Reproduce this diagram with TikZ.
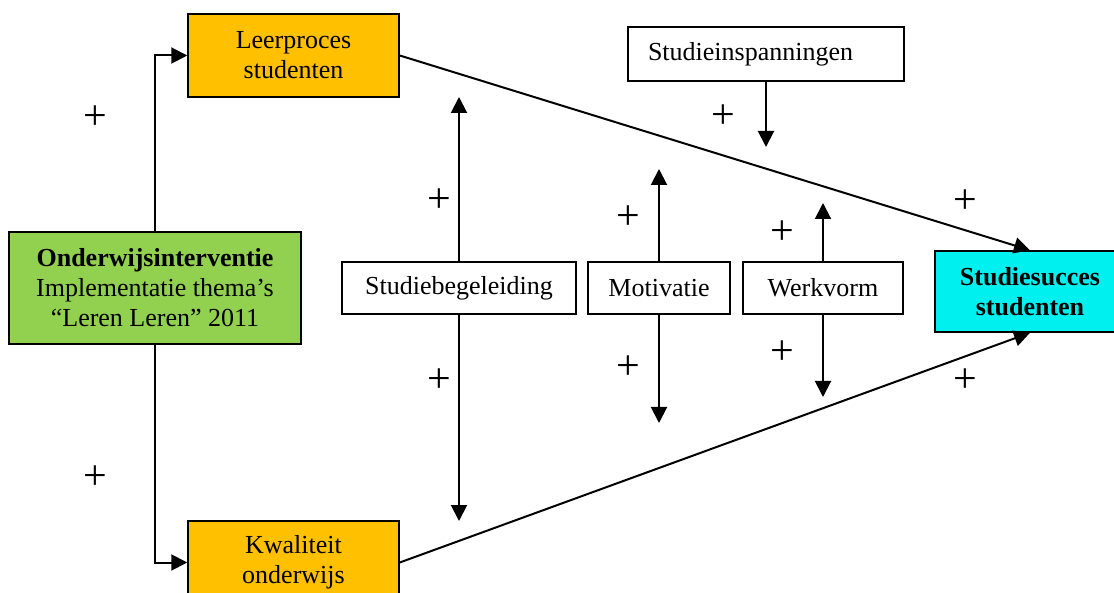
\documentclass[tikz,border=0pt]{standalone}
\usepackage{fontspec}
\setmainfont{Liberation Serif}
\usetikzlibrary{arrows.meta}
\definecolor{orangebox}{RGB}{255,192,0}
\definecolor{greenbox}{RGB}{146,208,80}
\definecolor{cyanbox}{RGB}{0,240,240}
\begin{document}
\begin{tikzpicture}[x=1pt,y=-1pt,
  box/.style={draw, line width=1.5pt, inner sep=0pt, align=center, font=\fontsize{26}{30}\selectfont},
  arr/.style={line width=2pt, -{Triangle[length=16pt,width=16pt]}},
  plus/.style={font=\fontsize{42}{42}\selectfont, inner sep=0pt}]
\useasboundingbox (0,0) rectangle (1114,593);
\clip (0,0) rectangle (1114,593);

% main boxes
\node[box, fill=orangebox, minimum width=211pt, minimum height=83pt] (lp) at (293.5,55.5) {Leerproces\\studenten};
\node[box, fill=greenbox, minimum width=292pt, minimum height=112pt] (ow) at (155,288) {\textbf{Onderwijsinterventie}\\Implementatie thema’s\\“Leren Leren” 2011};
\node[box, fill=orangebox, minimum width=211pt, minimum height=83pt] (kw) at (293.5,562.5) {Kwaliteit\\onderwijs};
\node[box, fill=cyanbox, minimum width=190pt, minimum height=81pt, font=\fontsize{26}{30}\selectfont\bfseries] (ss) at (1030,291.5) {Studiesucces\\studenten};
\node[box, text width=236pt, align=left, inner xsep=20pt, minimum height=54pt] (si) at (766,54) {Studieinspanningen};

% moderator boxes
\node[box, minimum width=234pt, minimum height=52pt] (sb) at (459,288) {Studiebegeleiding};
\node[box, minimum width=142pt, minimum height=52pt] (mo) at (659,288) {Motivatie};
\node[box, minimum width=160pt, minimum height=52pt] (wv) at (823,288) {Werkvorm};

% free ends
\coordinate (sbT) at (459,97);
\coordinate (sbB) at (459,521);
\coordinate (moT) at (659,169);
\coordinate (moB) at (659,423);
\coordinate (wvT) at (823,203);
\coordinate (wvB) at (823,397);
\coordinate (siB) at (766,147);

% connectors
\draw[arr] (ow.north) |- (lp.west);
\draw[arr] (ow.south) |- (kw.west);
\draw[arr] (lp.east) -- (ss.north);
\draw[arr] (kw.east) -- (ss.south);
\draw[arr] (si.south) -- (siB);
\draw[arr] (sb.north) -- (sbT);
\draw[arr] (sb.south) -- (sbB);
\draw[arr] (mo.north) -- (moT);
\draw[arr] (mo.south) -- (moB);
\draw[arr] (wv.north) -- (wvT);
\draw[arr] (wv.south) -- (wvB);

% plus signs
\node[plus] (p1) at (95,118) {+};
\node[plus] (p2) at (95,478) {+};
\node[plus] (p3) at (439,201) {+};
\node[plus] (p4) at (439,381) {+};
\node[plus] (p5) at (628,218) {+};
\node[plus] (p6) at (628,368) {+};
\node[plus] (p7) at (782,233) {+};
\node[plus] (p8) at (782,353) {+};
\node[plus] (p9) at (723,117) {+};
\node[plus] (p10) at (965,202) {+};
\node[plus] (p11) at (965,381) {+};
\end{tikzpicture}
\end{document}
